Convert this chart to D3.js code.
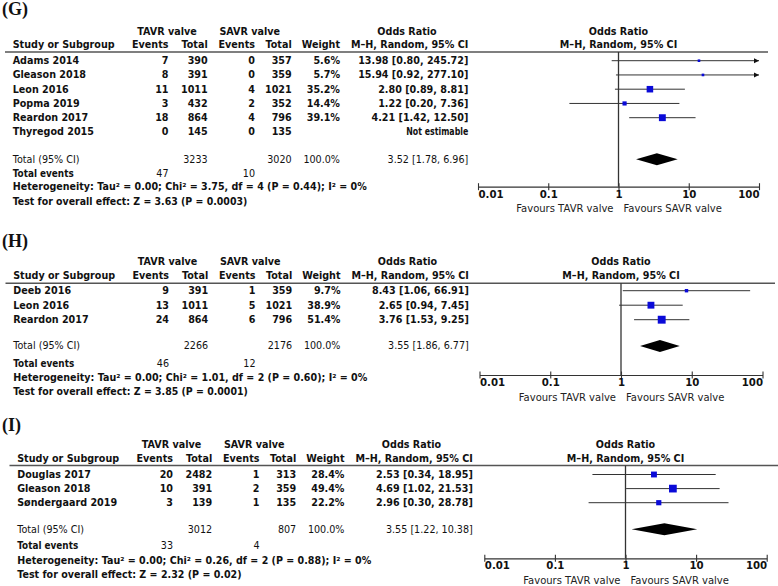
<!DOCTYPE html>
<html><head><meta charset="utf-8">
<script src="https://cdn.jsdelivr.net/npm/d3@7"></script>
<style>body{margin:0;background:#fff}svg{display:block}</style>
</head><body>
<svg id="chart" width="778" height="586"></svg>
<script>
// ---------- DATA ----------
const axisTicks = [0.01, 0.1, 1, 10, 100];
const axisTickLabels = ["0.01", "0.1", "1", "10", "100"];

// Panel G
const gStudies = ["Adams 2014", "Gleason 2018", "Leon 2016", "Popma 2019", "Reardon 2017", "Thyregod 2015"];
const gTavrEvents = [7, 8, 11, 3, 18, 0];
const gTavrTotal = [390, 391, 1011, 432, 864, 145];
const gSavrEvents = [0, 0, 4, 2, 4, 0];
const gSavrTotal = [357, 359, 1021, 352, 796, 135];
const gWeight = [5.6, 5.7, 35.2, 14.4, 39.1, null];
const gOR = [13.98, 15.94, 2.80, 1.22, 4.21, null];
const gLow = [0.80, 0.92, 0.89, 0.20, 1.42, null];
const gHigh = [245.72, 277.10, 8.81, 7.36, 12.50, null];
const gTotalN = [3233, 3020];
const gTotalEvents = [47, 10];
const gPooled = [3.52, 1.78, 6.96];
const gHet = "Heterogeneity: Tau² = 0.00; Chi² = 3.75, df = 4 (P = 0.44); I² = 0%";
const gTest = "Test for overall effect: Z = 3.63 (P = 0.0003)";

// Panel H
const hStudies = ["Deeb 2016", "Leon 2016", "Reardon 2017"];
const hTavrEvents = [9, 13, 24];
const hTavrTotal = [391, 1011, 864];
const hSavrEvents = [1, 5, 6];
const hSavrTotal = [359, 1021, 796];
const hWeight = [9.7, 38.9, 51.4];
const hOR = [8.43, 2.65, 3.76];
const hLow = [1.06, 0.94, 1.53];
const hHigh = [66.91, 7.45, 9.25];
const hTotalN = [2266, 2176];
const hTotalEvents = [46, 12];
const hPooled = [3.55, 1.86, 6.77];
const hHet = "Heterogeneity: Tau² = 0.00; Chi² = 1.01, df = 2 (P = 0.60); I² = 0%";
const hTest = "Test for overall effect: Z = 3.85 (P = 0.0001)";

// Panel I
const iStudies = ["Douglas 2017", "Gleason 2018", "Søndergaard 2019"];
const iTavrEvents = [20, 10, 3];
const iTavrTotal = [2482, 391, 139];
const iSavrEvents = [1, 2, 1];
const iSavrTotal = [313, 359, 135];
const iWeight = [28.4, 49.4, 22.2];
const iOR = [2.53, 4.69, 2.96];
const iLow = [0.34, 1.02, 0.30];
const iHigh = [18.95, 21.53, 28.78];
const iTotalN = [3012, 807];
const iTotalEvents = [33, 4];
const iPooled = [3.55, 1.22, 10.38];
const iHet = "Heterogeneity: Tau² = 0.00; Chi² = 0.26, df = 2 (P = 0.88); I² = 0%";
const iTest = "Test for overall effect: Z = 2.32 (P = 0.02)";

// ---------- LAYOUT ----------
const panels = [
  {label: "(G)", studies: gStudies, tE: gTavrEvents, tT: gTavrTotal, sE: gSavrEvents, sT: gSavrTotal,
   w: gWeight, or: gOR, lo: gLow, hi: gHigh, totN: gTotalN, totEv: gTotalEvents, pooled: gPooled, het: gHet, test: gTest,
   L: {labelY: 14.5, h1: 31.7, h2: 45, lineY: 52, row0: 60.7, step: 14.25, totalY: 159.2, eventsY: 173.3, hetY: 186.7, testY: 201.5,
       axisY: 186.7, ax0: 478, ax1: 759, dx: 0, lineEnd: 768}},
  {label: "(H)", studies: hStudies, tE: hTavrEvents, tT: hTavrTotal, sE: hSavrEvents, sT: hSavrTotal,
   w: hWeight, or: hOR, lo: hLow, hi: hHigh, totN: hTotalN, totEv: hTotalEvents, pooled: hPooled, het: hHet, test: hTest,
   L: {labelY: 247, h1: 261.7, h2: 276, lineY: 283.3, row0: 290.7, step: 14.5, totalY: 346, eventsY: 363.3, hetY: 377.3, testY: 391.7,
       axisY: 375, ax0: 479.5, ax1: 762.5, dx: 0.5, lineEnd: 775}},
  {label: "(I)", studies: iStudies, tE: iTavrEvents, tT: iTavrTotal, sE: iSavrEvents, sT: iSavrTotal,
   w: iWeight, or: iOR, lo: iLow, hi: iHigh, totN: iTotalN, totEv: iTotalEvents, pooled: iPooled, het: iHet, test: iTest,
   L: {labelY: 430.5, h1: 444.3, h2: 458.3, lineY: 465.5, row0: 474.5, step: 14.1, totalY: 529.3, eventsY: 546, hetY: 561, testY: 574.3,
       axisY: 558.3, ax0: 484.3, ax1: 766.7, dx: 4.5, lineEnd: 778}}
];

const FONT = "'DejaVu Sans', sans-serif";
const FS = 9.6;
const col = {name: 12.7, tE: 168.5, tT: 207.7, sE: 255, sT: 291.7, w: 340, or: 468.3,
             tavrHead: 167, savrHead: 249.7, orHead: 407};
const BLUE = "#0a0ad8";
const svg = d3.select("#chart");

function txt(g, x, y, s, opts = {}) {
  const t = g.append("text").attr("x", x).attr("y", y).attr("dy", "0.35em")
    .attr("font-family", opts.family || FONT)
    .attr("font-size", opts.size || FS)
    .attr("font-weight", opts.weight || "bold")
    .attr("text-anchor", opts.anchor || "start")
    .attr("fill", opts.fill || "#111")
    .text(s);
  if (opts.len) t.attr("textLength", opts.len).attr("lengthAdjust", "spacingAndGlyphs");
  return t;
}

panels.forEach(p => {
  const L = p.L, dx = L.dx;
  const g = svg.append("g");
  const c = {};
  Object.keys(col).forEach(k => c[k] = col[k] + dx);

  // panel label
  g.append("text").attr("x", 2).attr("y", L.labelY)
    .attr("font-family", "'Liberation Serif', 'DejaVu Serif', serif")
    .attr("font-size", 18).attr("font-weight", "bold").attr("fill", "#111").text(p.label);

  // headers
  txt(g, c.tavrHead, L.h1, "TAVR valve", {anchor: "middle"});
  txt(g, c.savrHead, L.h1, "SAVR valve", {anchor: "middle"});
  txt(g, c.orHead, L.h1, "Odds Ratio", {anchor: "middle"});
  txt(g, c.name, L.h2, "Study or Subgroup");
  txt(g, c.tE, L.h2, "Events", {anchor: "end"});
  txt(g, c.tT, L.h2, "Total", {anchor: "end"});
  txt(g, c.sE, L.h2, "Events", {anchor: "end"});
  txt(g, c.sT, L.h2, "Total", {anchor: "end"});
  txt(g, c.w, L.h2, "Weight", {anchor: "end"});
  txt(g, c.or, L.h2, "M–H, Random, 95% CI", {anchor: "end"});

  g.append("line").attr("x1", 5 + dx).attr("x2", L.lineEnd).attr("y1", L.lineY).attr("y2", L.lineY)
    .attr("stroke", "#555").attr("stroke-width", 1.4);

  // scales
  const x = d3.scaleLog().domain([0.01, 100]).range([L.ax0, L.ax1]);
  const n = p.studies.length;
  const y = d3.scaleLinear().domain([0, n - 1]).range([L.row0, L.row0 + (n - 1) * L.step]);
  const x1 = x(1);

  // forest header
  txt(g, x1, L.h1, "Odds Ratio", {anchor: "middle"});
  txt(g, x1, L.h2, "M–H, Random, 95% CI", {anchor: "middle"});

  // rows
  p.studies.forEach((s, i) => {
    const yy = y(i);
    txt(g, c.name, yy, s);
    txt(g, c.tE, yy, p.tE[i], {anchor: "end"});
    txt(g, c.tT, yy, p.tT[i], {anchor: "end"});
    txt(g, c.sE, yy, p.sE[i], {anchor: "end"});
    txt(g, c.sT, yy, p.sT[i], {anchor: "end"});
    if (p.w[i] != null) txt(g, c.w, yy, p.w[i].toFixed(1) + "%", {anchor: "end"});
    if (p.or[i] != null) {
      txt(g, c.or, yy, `${p.or[i].toFixed(2)} [${p.lo[i].toFixed(2)}, ${p.hi[i].toFixed(2)}]`, {anchor: "end"});
      const lo = Math.max(p.lo[i], 0.01), hi = Math.min(p.hi[i], 100);
      g.append("line").attr("x1", x(lo)).attr("x2", x(hi)).attr("y1", yy).attr("y2", yy)
        .attr("stroke", "#333").attr("stroke-width", 1);
      if (p.hi[i] > 100) {
        const xe = x(100);
        g.append("path").attr("d", `M${xe},${yy}L${xe - 5},${yy - 2.5}L${xe - 5},${yy + 2.5}Z`).attr("fill", "#111");
      }
      if (p.lo[i] < 0.01) {
        const xs = x(0.01);
        g.append("path").attr("d", `M${xs},${yy}L${xs + 5},${yy - 2.5}L${xs + 5},${yy + 2.5}Z`).attr("fill", "#111");
      }
      const side = 1.1 * Math.sqrt(p.w[i]);
      g.append("rect").attr("x", x(p.or[i]) - side / 2).attr("y", yy - side / 2)
        .attr("width", side).attr("height", side).attr("fill", BLUE);
    } else {
      txt(g, c.or, yy, "Not estimable", {anchor: "end", len: 62});
    }
  });

  // totals
  txt(g, c.name, L.totalY, "Total (95% CI)", {weight: "normal"});
  txt(g, c.tT, L.totalY, p.totN[0], {anchor: "end", weight: "normal"});
  txt(g, c.sT, L.totalY, p.totN[1], {anchor: "end", weight: "normal"});
  txt(g, c.w, L.totalY, "100.0%", {anchor: "end", weight: "normal"});
  txt(g, c.or, L.totalY, `${p.pooled[0].toFixed(2)} [${p.pooled[1].toFixed(2)}, ${p.pooled[2].toFixed(2)}]`, {anchor: "end", weight: "normal"});
  txt(g, c.name, L.eventsY, "Total events", {len: 61});
  txt(g, c.tE, L.eventsY, p.totEv[0], {anchor: "end", weight: "normal"});
  txt(g, c.sE, L.eventsY, p.totEv[1], {anchor: "end", weight: "normal"});
  txt(g, c.name, L.hetY, p.het, {len: 354});
  txt(g, c.name, L.testY, p.test, {len: p.test.length * 5.1});

  // diamond
  const py = L.totalY;
  g.append("path")
    .attr("d", `M${x(p.pooled[1])},${py}L${x(p.pooled[0])},${py - 6}L${x(p.pooled[2])},${py}L${x(p.pooled[0])},${py + 6}Z`)
    .attr("fill", "#000");

  // reference line
  g.append("line").attr("x1", x1).attr("x2", x1).attr("y1", L.lineY).attr("y2", L.axisY)
    .attr("stroke", "#333").attr("stroke-width", 1.3);

  // axis
  const ax = g.append("g").attr("transform", `translate(0,${L.axisY})`)
    .call(d3.axisBottom(x).tickValues(axisTicks).tickFormat((d, i) => axisTickLabels[i]).tickSizeOuter(0).tickSizeInner(3.5));
  ax.select(".domain").attr("stroke", "#333").attr("stroke-width", 1.2);
  ax.selectAll(".tick line").attr("y1", -3.5).attr("y2", 3.5).attr("stroke", "#333").attr("stroke-width", 1.1);
  ax.selectAll(".tick text")
    .attr("y", 7.5).attr("dy", "0.35em")
    .attr("font-family", FONT).attr("font-size", 10.2).attr("font-weight", "bold").attr("fill", "#111")
    .attr("text-anchor", (d, i) => i === 0 ? "start" : (i === axisTicks.length - 1 ? "end" : "middle"));

  txt(g, x1 - 5, L.axisY + 22, "Favours TAVR valve", {anchor: "end", weight: "normal", size: 10, fill: "#222"});
  txt(g, x1 + 5, L.axisY + 22, "Favours SAVR valve", {anchor: "start", weight: "normal", size: 10, fill: "#222"});
});
</script>
</body></html>
